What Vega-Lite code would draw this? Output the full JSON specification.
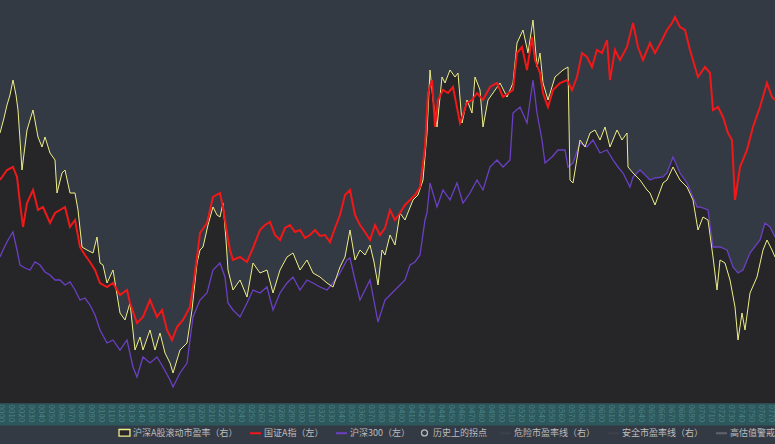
{
  "$schema": "https://vega.github.io/schema/vega-lite/v6.json",
  "width": 775,
  "height": 403,
  "autosize": {"type": "none"},
  "padding": {"left": 0, "top": 0, "right": 0, "bottom": 41},
  "background": "#343a44",
  "config": {
    "view": {"stroke": null, "fill": "#343a44"},
    "font": "Noto Sans CJK SC"
  },
  "datasets": {
    "pe": [
      {"x":0,"y":133},{"x":4,"y":118},{"x":7,"y":105},{"x":10,"y":95},{"x":13,"y":80},{"x":16,"y":95},{"x":18,"y":110},{"x":22,"y":170},{"x":27,"y":130},{"x":30,"y":120},{"x":33,"y":110},{"x":38,"y":137},{"x":42,"y":147},{"x":45,"y":137},{"x":50,"y":153},{"x":55,"y":160},{"x":57,"y":193},{"x":62,"y":173},{"x":65,"y":170},{"x":70,"y":193},{"x":75,"y":193},{"x":78,"y":210},{"x":82,"y":247},{"x":87,"y":250},{"x":93,"y":253},{"x":97,"y":237},{"x":100,"y":263},{"x":103,"y":265},{"x":107,"y":283},{"x":113,"y":270},{"x":120,"y":313},{"x":125,"y":320},{"x":130,"y":303},{"x":135,"y":350},{"x":140,"y":337},{"x":143,"y":350},{"x":150,"y":330},{"x":155,"y":350},{"x":160,"y":333},{"x":165,"y":353},{"x":170,"y":363},{"x":173,"y":373},{"x":180,"y":350},{"x":187,"y":343},{"x":192,"y":310},{"x":197,"y":263},{"x":200,"y":250},{"x":203,"y":247},{"x":208,"y":225},{"x":213,"y":207},{"x":217,"y":215},{"x":220,"y":217},{"x":223,"y":203},{"x":226,"y":240},{"x":228,"y":270},{"x":233,"y":290},{"x":240,"y":280},{"x":247,"y":297},{"x":253,"y":263},{"x":260,"y":273},{"x":267,"y":270},{"x":273,"y":293},{"x":280,"y":270},{"x":287,"y":257},{"x":293,"y":253},{"x":300,"y":270},{"x":307,"y":260},{"x":313,"y":273},{"x":320,"y":277},{"x":327,"y":283},{"x":333,"y":287},{"x":340,"y":267},{"x":345,"y":257},{"x":350,"y":230},{"x":355,"y":260},{"x":360,"y":250},{"x":365,"y":255},{"x":370,"y":245},{"x":374,"y":262},{"x":378,"y":285},{"x":382,"y":250},{"x":385,"y":255},{"x":390,"y":235},{"x":395,"y":245},{"x":400,"y":213},{"x":405,"y":220},{"x":413,"y":200},{"x":418,"y":195},{"x":423,"y":180},{"x":427,"y":133},{"x":430,"y":70},{"x":433,"y":100},{"x":437,"y":127},{"x":442,"y":77},{"x":445,"y":83},{"x":450,"y":70},{"x":455,"y":77},{"x":458,"y":73},{"x":462,"y":123},{"x":467,"y":100},{"x":472,"y":113},{"x":475,"y":77},{"x":480,"y":90},{"x":483,"y":127},{"x":488,"y":100},{"x":493,"y":93},{"x":500,"y":83},{"x":507,"y":97},{"x":513,"y":83},{"x":517,"y":43},{"x":523,"y":30},{"x":528,"y":53},{"x":533,"y":20},{"x":537,"y":67},{"x":540,"y":53},{"x":543,"y":83},{"x":548,"y":100},{"x":555,"y":77},{"x":563,"y":70},{"x":568,"y":67},{"x":570,"y":180},{"x":573,"y":183},{"x":580,"y":140},{"x":585,"y":147},{"x":590,"y":133},{"x":595,"y":130},{"x":600,"y":140},{"x":605,"y":127},{"x":610,"y":147},{"x":617,"y":130},{"x":622,"y":140},{"x":627,"y":133},{"x":628,"y":167},{"x":633,"y":173},{"x":640,"y":180},{"x":647,"y":190},{"x":650,"y":193},{"x":655,"y":205},{"x":663,"y":183},{"x":667,"y":180},{"x":673,"y":167},{"x":680,"y":180},{"x":687,"y":187},{"x":693,"y":200},{"x":698,"y":230},{"x":703,"y":217},{"x":708,"y":220},{"x":713,"y":257},{"x":717,"y":290},{"x":720,"y":260},{"x":725,"y":263},{"x":730,"y":280},{"x":735,"y":307},{"x":738,"y":340},{"x":742,"y":313},{"x":745,"y":330},{"x":750,"y":293},{"x":757,"y":277},{"x":763,"y":250},{"x":767,"y":240},{"x":772,"y":250},{"x":775,"y":257}
    ],
    "a": [
      {"x":0,"y":180},{"x":7,"y":170},{"x":13,"y":167},{"x":17,"y":177},{"x":20,"y":203},{"x":23,"y":227},{"x":27,"y":203},{"x":33,"y":190},{"x":38,"y":210},{"x":43,"y":207},{"x":50,"y":223},{"x":55,"y":213},{"x":60,"y":210},{"x":65,"y":207},{"x":70,"y":227},{"x":75,"y":220},{"x":80,"y":247},{"x":85,"y":255},{"x":90,"y":262},{"x":95,"y":270},{"x":100,"y":283},{"x":107,"y":287},{"x":113,"y":283},{"x":120,"y":295},{"x":127,"y":290},{"x":130,"y":303},{"x":137,"y":323},{"x":143,"y":317},{"x":150,"y":300},{"x":157,"y":317},{"x":162,"y":310},{"x":167,"y":330},{"x":172,"y":340},{"x":177,"y":327},{"x":183,"y":320},{"x":190,"y":307},{"x":193,"y":287},{"x":197,"y":257},{"x":200,"y":233},{"x":207,"y":223},{"x":213,"y":197},{"x":220,"y":193},{"x":223,"y":207},{"x":227,"y":233},{"x":230,"y":250},{"x":233,"y":260},{"x":240,"y":257},{"x":247,"y":262},{"x":253,"y":248},{"x":260,"y":230},{"x":265,"y":225},{"x":270,"y":222},{"x":275,"y":235},{"x":280,"y":240},{"x":285,"y":228},{"x":290,"y":225},{"x":295,"y":232},{"x":300,"y":230},{"x":305,"y":238},{"x":310,"y":235},{"x":315,"y":230},{"x":320,"y":236},{"x":325,"y":235},{"x":330,"y":242},{"x":335,"y":228},{"x":340,"y":215},{"x":345,"y":195},{"x":350,"y":190},{"x":355,"y":215},{"x":360,"y":225},{"x":365,"y":232},{"x":370,"y":240},{"x":375,"y":225},{"x":380,"y":235},{"x":385,"y":228},{"x":390,"y":210},{"x":395,"y":220},{"x":400,"y":213},{"x":405,"y":205},{"x":410,"y":200},{"x":415,"y":195},{"x":420,"y":187},{"x":425,"y":147},{"x":428,"y":93},{"x":432,"y":80},{"x":435,"y":127},{"x":438,"y":100},{"x":443,"y":90},{"x":448,"y":93},{"x":453,"y":87},{"x":460,"y":123},{"x":467,"y":103},{"x":472,"y":100},{"x":477,"y":93},{"x":483,"y":100},{"x":490,"y":87},{"x":497,"y":83},{"x":503,"y":97},{"x":513,"y":90},{"x":517,"y":53},{"x":522,"y":47},{"x":527,"y":70},{"x":532,"y":37},{"x":535,"y":60},{"x":540,"y":73},{"x":543,"y":93},{"x":548,"y":107},{"x":553,"y":90},{"x":560,"y":83},{"x":567,"y":80},{"x":572,"y":90},{"x":577,"y":77},{"x":582,"y":53},{"x":587,"y":57},{"x":592,"y":67},{"x":597,"y":50},{"x":602,"y":53},{"x":607,"y":40},{"x":610,"y":80},{"x":615,"y":50},{"x":620,"y":60},{"x":627,"y":47},{"x":633,"y":23},{"x":638,"y":47},{"x":643,"y":60},{"x":650,"y":43},{"x":655,"y":53},{"x":662,"y":40},{"x":667,"y":30},{"x":672,"y":23},{"x":675,"y":17},{"x":680,"y":27},{"x":685,"y":30},{"x":690,"y":50},{"x":695,"y":67},{"x":698,"y":77},{"x":705,"y":67},{"x":710,"y":73},{"x":713,"y":110},{"x":718,"y":107},{"x":723,"y":117},{"x":728,"y":133},{"x":732,"y":140},{"x":735,"y":200},{"x":740,"y":167},{"x":747,"y":150},{"x":753,"y":127},{"x":760,"y":107},{"x":767,"y":83},{"x":772,"y":97},{"x":775,"y":100}
    ],
    "hs": [
      {"x":0,"y":257},{"x":3,"y":250},{"x":8,"y":240},{"x":13,"y":232},{"x":17,"y":250},{"x":20,"y":265},{"x":25,"y":268},{"x":30,"y":270},{"x":35,"y":262},{"x":40,"y":265},{"x":45,"y":272},{"x":50,"y":275},{"x":55,"y":280},{"x":60,"y":280},{"x":65,"y":285},{"x":70,"y":282},{"x":75,"y":290},{"x":80,"y":300},{"x":85,"y":298},{"x":90,"y":305},{"x":95,"y":315},{"x":100,"y":330},{"x":107,"y":343},{"x":113,"y":340},{"x":120,"y":350},{"x":127,"y":340},{"x":133,"y":367},{"x":137,"y":377},{"x":143,"y":357},{"x":150,"y":363},{"x":157,"y":357},{"x":163,"y":367},{"x":170,"y":380},{"x":173,"y":387},{"x":180,"y":373},{"x":187,"y":363},{"x":193,"y":317},{"x":200,"y":300},{"x":207,"y":293},{"x":213,"y":270},{"x":220,"y":263},{"x":225,"y":277},{"x":228,"y":303},{"x":233,"y":310},{"x":240,"y":317},{"x":247,"y":303},{"x":253,"y":290},{"x":260,"y":293},{"x":267,"y":287},{"x":273,"y":310},{"x":280,"y":293},{"x":287,"y":283},{"x":293,"y":277},{"x":300,"y":290},{"x":307,"y":280},{"x":313,"y":283},{"x":320,"y":287},{"x":327,"y":290},{"x":333,"y":283},{"x":340,"y":273},{"x":347,"y":260},{"x":350,"y":258},{"x":355,"y":280},{"x":360,"y":300},{"x":365,"y":290},{"x":370,"y":280},{"x":378,"y":322},{"x":385,"y":300},{"x":390,"y":295},{"x":395,"y":290},{"x":400,"y":285},{"x":405,"y":280},{"x":410,"y":265},{"x":415,"y":262},{"x":420,"y":255},{"x":425,"y":220},{"x":427,"y":213},{"x":430,"y":183},{"x":437,"y":207},{"x":443,"y":190},{"x":450,"y":200},{"x":457,"y":183},{"x":463,"y":203},{"x":470,"y":193},{"x":477,"y":180},{"x":483,"y":190},{"x":490,"y":167},{"x":497,"y":160},{"x":503,"y":167},{"x":510,"y":160},{"x":513,"y":113},{"x":520,"y":107},{"x":527,"y":123},{"x":533,"y":80},{"x":537,"y":113},{"x":542,"y":140},{"x":545,"y":163},{"x":552,"y":157},{"x":558,"y":150},{"x":565,"y":150},{"x":568,"y":167},{"x":573,"y":163},{"x":580,"y":143},{"x":587,"y":147},{"x":593,"y":140},{"x":600,"y":153},{"x":607,"y":150},{"x":613,"y":160},{"x":618,"y":167},{"x":623,"y":173},{"x":630,"y":187},{"x":633,"y":177},{"x":640,"y":170},{"x":647,"y":177},{"x":650,"y":180},{"x":655,"y":178},{"x":663,"y":177},{"x":667,"y":173},{"x":673,"y":157},{"x":680,"y":173},{"x":687,"y":183},{"x":693,"y":197},{"x":697,"y":207},{"x":700,"y":207},{"x":708,"y":210},{"x":713,"y":247},{"x":720,"y":247},{"x":727,"y":250},{"x":733,"y":267},{"x":738,"y":273},{"x":743,"y":270},{"x":750,"y":253},{"x":760,"y":240},{"x":765,"y":223},{"x":770,"y":227},{"x":775,"y":237}
    ]
  },
  "encoding": {
    "x": {
      "field": "x", "type": "quantitative",
      "scale": {"domain": [0, 775], "nice": false, "zero": false},
      "axis": {
        "title": null, "orient": "bottom", "offset": 0, "grid": false, "domain": false,
        "tickColor": "#2d585c", "tickSize": 22, "tickWidth": 10.5, "tickCount": 80,
        "labelColor": "#4b8287", "labelFontSize": 8, "labelPadding": -21,
        "labelAngle": 90, "labelAlign": "left", "labelBaseline": "middle",
        "labelOverlap": false, "labelFlush": false, "format": "04d"
      }
    },
    "y": {
      "field": "y", "type": "quantitative",
      "scale": {"domain": [0, 403], "reverse": true, "nice": false, "zero": false},
      "axis": null
    }
  },
  "layer": [
    {
      "data": {"name": "pe"},
      "mark": {"type": "area", "fill": "#262628", "line": false},
      "encoding": {"y2": {"datum": 403}}
    },
    {
      "data": {"name": "hs"},
      "mark": {"type": "area", "fill": "#262628", "line": false},
      "encoding": {"y2": {"datum": 403}}
    },
    {
      "data": {"name": "hs"},
      "mark": {"type": "line", "strokeWidth": 1.3},
      "encoding": {"color": {"datum": "hs", "type": "nominal"}}
    },
    {
      "data": {"name": "pe"},
      "mark": {"type": "line", "strokeWidth": 1},
      "encoding": {"color": {"datum": "pe", "type": "nominal"}}
    },
    {
      "data": {"name": "a"},
      "mark": {"type": "line", "strokeWidth": 2},
      "encoding": {
        "color": {
          "datum": "a", "type": "nominal",
          "scale": {
            "domain": ["pe", "a", "hs", "turn", "d", "s", "h"],
            "range": ["#eeee88", "#f01818", "#6b40c4", "#b8b8b8", "#3c414a", "#3c414a", "#60646c"]
          },
          "legend": {
            "title": null, "orient": "none", "legendX": 120, "legendY": 428,
            "direction": "horizontal", "columnPadding": 8, "labelFontSize": 9,
            "labelColor": "#bdbdbd", "labelFont": "Noto Sans CJK SC", "symbolSize": 120,
            "labelExpr": "datum.label==='pe' ? '沪深A股滚动市盈率（右）' : datum.label==='a' ? '国证A指（左）' : datum.label==='hs' ? '沪深300（左）' : datum.label==='turn' ? '历史上的拐点' : datum.label==='d' ? '危险市盈率线（右）' : datum.label==='s' ? '安全市盈率线（右）' : '高估值警戒线（右）'",
            "encode": {
              "symbols": {
                "update": {
                  "shape": {"signal": "datum.value==='pe' ? 'M-1,-0.6H1V0.6H-1Z' : datum.value==='turn' ? 'circle' : 'stroke'"},
                  "fill": {"signal": "datum.value==='pe' ? '#262628' : 'transparent'"},
                  "strokeWidth": {"signal": "datum.value==='pe' || datum.value==='turn' ? 1.3 : 2"},
                  "size": {"signal": "datum.value==='turn' ? 36 : 120"}
                }
              }
            }
          }
        }
      }
    }
  ]
}
